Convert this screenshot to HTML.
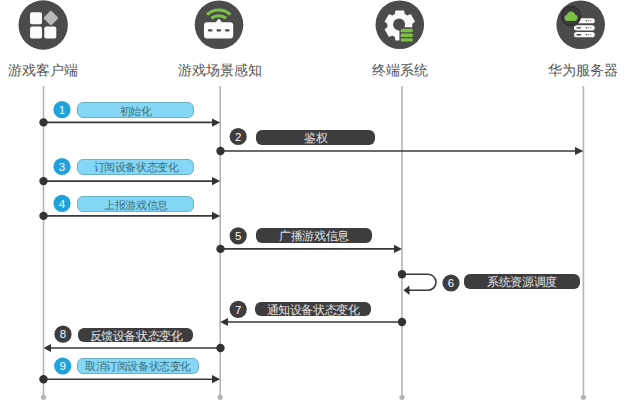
<!DOCTYPE html>
<html><head><meta charset="utf-8">
<style>
html,body{margin:0;padding:0;background:#fff;}
body{width:626px;height:400px;overflow:hidden;position:relative;font-family:"Liberation Sans",sans-serif;}
svg{position:absolute;left:0;top:0;}
.lbl{position:absolute;top:62px;height:16px;line-height:16px;font-size:14px;color:#555;white-space:nowrap;text-align:center;width:120px;}
.p{position:absolute;height:16px;line-height:16px;font-size:11px;text-align:center;white-space:nowrap;box-sizing:border-box;}
.lt{background:#84d7f6;border:1px solid #6cb1c5;color:#3a6f80;border-radius:6px;line-height:14px;}
.dk{background:#3d3d3f;color:#e2e2e2;border-radius:6px;font-size:12px;}
.p span{display:inline-block;position:relative;top:1px;}
.dk span{transform:scale(0.96);}
.lt span{transform:scale(0.96);top:0.8px;}
</style></head>
<body>
<svg width="626" height="400" viewBox="0 0 626 400">
  <!-- lifelines -->
  <g stroke="#b5b5b5" stroke-width="1.6">
    <line x1="43.5" y1="86" x2="43.5" y2="397"/>
    <line x1="220.2" y1="86" x2="220.2" y2="397"/>
    <line x1="402" y1="86" x2="402" y2="397"/>
    <line x1="583.4" y1="86" x2="583.4" y2="397"/>
  </g>
  <g fill="#b5b5b5">
    <circle cx="43.5" cy="397.3" r="2.6"/>
    <circle cx="220.2" cy="397.3" r="2.6"/>
    <circle cx="402" cy="397.3" r="2.6"/>
    <circle cx="583.4" cy="397.3" r="2.6"/>
  </g>

  <!-- top icons -->
  <circle cx="43.2" cy="25" r="24.7" fill="#4b4b4b"/>
  <g fill="#fbfbfb">
    <rect x="30" y="12.3" width="12" height="12" rx="2"/>
    <rect x="30" y="26.5" width="12" height="12" rx="2"/>
    <rect x="44.3" y="26.5" width="12" height="12" rx="2"/>
  </g>
  <rect x="45.4" y="12.4" width="11" height="11" rx="1.8" fill="#b9b9b9" transform="rotate(45 50.9 17.9)"/>

  <circle cx="219" cy="24.7" r="24.3" fill="#4b4b4b"/>
  <g stroke="#7cc143" stroke-width="3.1" fill="none">
    <path d="M207.04 14.73 A16.8 16.8 0 0 1 230.46 14.73"/>
    <path d="M211.36 18.24 A12 12 0 0 1 226.14 18.24"/>
  </g>
  <rect x="204" y="22.3" width="29.2" height="16.3" rx="3" fill="#fbfbfb"/>
  <path d="M215.3 22.8 L218.8 18.4 L222.3 22.8Z" fill="#fbfbfb"/>
  <g stroke="#4b4b4b" stroke-width="2.2" stroke-linecap="round">
    <line x1="209" y1="30.4" x2="211.5" y2="30.4"/>
    <line x1="217.5" y1="30.4" x2="220" y2="30.4"/>
    <line x1="226" y1="30.4" x2="228.5" y2="30.4"/>
  </g>

  <circle cx="399.8" cy="24.8" r="24.3" fill="#4b4b4b"/>
  <path d="M395.50 14.30 L395.92 11.01 L403.68 11.01 L404.10 14.30 L407.35 16.17 L410.41 14.89 L414.29 21.62 L411.65 23.62 L411.65 27.38 L414.29 29.38 L410.41 36.11 L407.35 34.83 L404.10 36.70 L403.68 39.99 L395.92 39.99 L395.50 36.70 L392.25 34.83 L389.19 36.11 L385.31 29.38 L387.95 27.38 L387.95 23.62 L385.31 21.62 L389.19 14.89 L392.25 16.17Z" fill="#fbfbfb" stroke="#fbfbfb" stroke-width="1.2" stroke-linejoin="round"/>
  <circle cx="399.1" cy="24.5" r="6" fill="#4b4b4b"/>
  <rect x="399.4" y="27.2" width="17" height="15.8" rx="1.5" fill="#4b4b4b"/>
  <g fill="#7dc142">
    <rect x="400.6" y="28.8" width="12.3" height="3.5" rx="1.5"/>
    <rect x="400.6" y="33.6" width="12.3" height="3.5" rx="1.5"/>
    <rect x="400.6" y="38.2" width="12.3" height="3.3" rx="1.5"/>
  </g>

  <circle cx="580.7" cy="24.8" r="24.3" fill="#4b4b4b"/>
  <g fill="#fbfbfb">
    <rect x="576" y="18.2" width="18.8" height="5.1" rx="2.55"/>
    <rect x="574" y="25.2" width="20.8" height="5.2" rx="2.6"/>
    <rect x="574" y="32" width="20.8" height="5.3" rx="2.65"/>
  </g>
  <g fill="#444">
    <rect x="576.4" y="27.2" width="4.8" height="1.4" rx="0.7"/>
    <rect x="576.4" y="34" width="4.8" height="1.4" rx="0.7"/>
    <circle cx="586.5" cy="20.7" r="0.8"/><circle cx="588.6" cy="20.7" r="0.7" fill="#999"/><circle cx="590.6" cy="20.7" r="0.7" fill="#999"/>
    <circle cx="586.5" cy="27.8" r="0.8"/><circle cx="588.6" cy="27.8" r="0.7" fill="#999"/><circle cx="590.6" cy="27.8" r="0.7" fill="#999"/>
    <circle cx="586.5" cy="34.6" r="0.8"/><circle cx="588.6" cy="34.6" r="0.7" fill="#999"/><circle cx="590.6" cy="34.6" r="0.7" fill="#999"/>
  </g>
  <circle cx="571" cy="16" r="9.6" fill="#3b3b3d" stroke="#2e2e33" stroke-width="1.4"/>
  <g fill="#7dc142">
    <circle cx="571" cy="15.7" r="4.2"/>
    <circle cx="567.6" cy="17.8" r="3.1"/>
    <circle cx="574.3" cy="17.7" r="3.1"/>
    <rect x="567.6" y="16.5" width="6.7" height="4.4"/>
  </g>

  <!-- arrows -->
  <g stroke="#3a3a3a" stroke-width="1.6" fill="none">
    <line x1="43.5" y1="122.4" x2="213" y2="122.4"/>
    <line x1="220.2" y1="151" x2="576" y2="151"/>
    <line x1="43.5" y1="181.1" x2="213" y2="181.1"/>
    <line x1="43.5" y1="215.9" x2="213" y2="215.9"/>
    <line x1="220.2" y1="248.9" x2="395" y2="248.9"/>
    <path d="M402 274.2 H428 A8 8 0 0 1 428 290.2 H408"/>
    <line x1="227" y1="322" x2="402" y2="322"/>
    <line x1="50" y1="348" x2="220.2" y2="348"/>
    <line x1="43.5" y1="379.2" x2="213" y2="379.2"/>
  </g>
  <g fill="#333">
    <circle cx="43.5" cy="122.4" r="4.2"/>
    <path d="M212 118.4 L220.2 122.4 L212 126.8Z"/>
    <circle cx="220.5" cy="151" r="4.2"/>
    <path d="M575 147 L583.4 151 L575 155Z"/>
    <circle cx="43.5" cy="181.1" r="4.2"/>
    <path d="M212 177 L220.2 181.1 L212 185.2Z"/>
    <circle cx="43.5" cy="215.9" r="4.2"/>
    <path d="M212 211.8 L220.2 215.9 L212 220Z"/>
    <circle cx="220.5" cy="248.9" r="4.2"/>
    <path d="M394 244.8 L402 248.9 L394 253Z"/>
    <circle cx="402" cy="274.2" r="4.2"/>
    <path d="M409.5 285.5 L403.5 290.2 L409.5 295Z"/>
    <circle cx="402" cy="322" r="4.2"/>
    <path d="M228 318 L220.2 322 L228 326Z"/>
    <circle cx="220.5" cy="348" r="4.2"/>
    <path d="M51 344 L43.5 348 L51 352Z"/>
    <circle cx="43.5" cy="379.2" r="4.2"/>
    <path d="M212 375.1 L220.2 379.2 L212 383.3Z"/>
  </g>

  <!-- number circles -->
  <g fill="#1fa2dc">
    <circle cx="62" cy="109.6" r="8.6"/>
    <circle cx="62" cy="166.5" r="8.6"/>
    <circle cx="62" cy="203.3" r="8.6"/>
    <circle cx="62.7" cy="366" r="8.6"/>
  </g>
  <g fill="#3d3d3f">
    <circle cx="238.2" cy="136.5" r="8.6"/>
    <circle cx="238.2" cy="235.8" r="8.6"/>
    <circle cx="451" cy="283" r="8.6"/>
    <circle cx="238.2" cy="309.3" r="8.6"/>
    <circle cx="63" cy="334.2" r="8.6"/>
  </g>
  <g font-family="Liberation Sans, sans-serif" font-size="11.5" font-weight="normal" text-anchor="middle" fill="#fafafa">
    <text x="62" y="113.8">1</text>
    <text x="62" y="170.7">3</text>
    <text x="62" y="207.5">4</text>
    <text x="62.7" y="370.2">9</text>
    <text x="238.2" y="140.7">2</text>
    <text x="238.2" y="240.0">5</text>
    <text x="451" y="287.2">6</text>
    <text x="238.2" y="313.5">7</text>
    <text x="63" y="338.4">8</text>
  </g>
</svg>

<div class="lbl" style="left:-17px">游戏客户端</div>
<div class="lbl" style="left:160px">游戏场景感知</div>
<div class="lbl" style="left:340px">终端系统</div>
<div class="lbl" style="left:523px">华为服务器</div>

<div class="p lt" style="left:76.5px;top:101.8px;width:117px;"><span>初始化</span></div>
<div class="p dk" style="left:256px;top:130px;width:119px;height:15px;line-height:15px;"><span>鉴权</span></div>
<div class="p lt" style="left:77px;top:158.5px;width:117px;"><span>订阅设备状态变化</span></div>
<div class="p lt" style="left:77px;top:195.8px;width:117px;"><span>上报游戏信息</span></div>
<div class="p dk" style="left:256px;top:228.2px;width:116px;height:14.5px;line-height:14.5px;"><span>广播游戏信息</span></div>
<div class="p dk" style="left:464px;top:274.2px;width:116px;height:14.5px;line-height:14.5px;"><span>系统资源调度</span></div>
<div class="p dk" style="left:255.2px;top:302.2px;width:115.6px;height:14.2px;line-height:14.2px;"><span>通知设备状态变化</span></div>
<div class="p dk" style="left:77.8px;top:327.6px;width:115.5px;height:14px;line-height:14px;"><span>反馈设备状态变化</span></div>
<div class="p lt" style="left:76.5px;top:357.7px;width:122.5px;"><span>取消订阅设备状态变化</span></div>
</body></html>
